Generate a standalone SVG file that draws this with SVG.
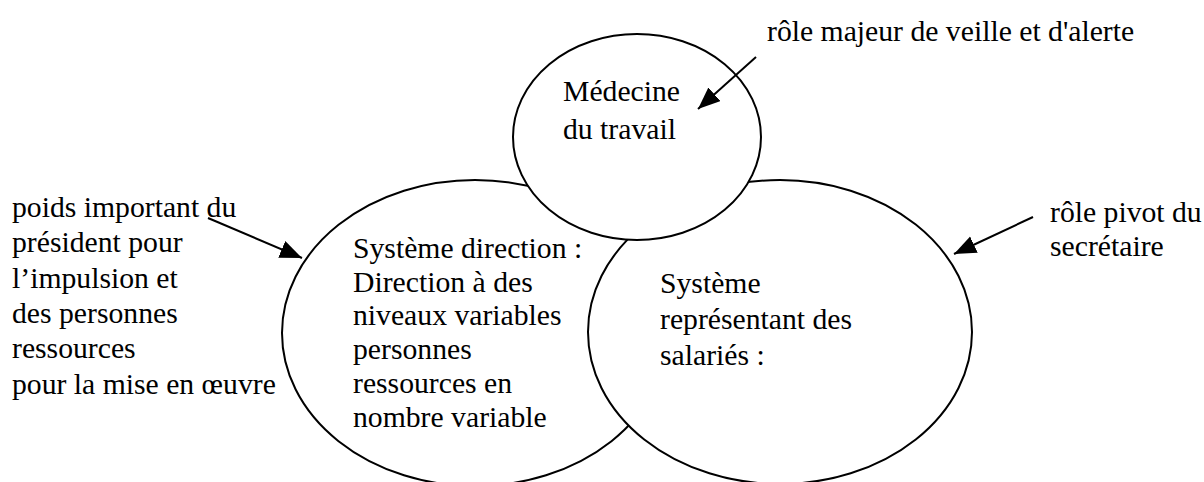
<svg xmlns="http://www.w3.org/2000/svg" width="1204" height="482" viewBox="0 0 1204 482" font-family="'Liberation Serif', 'Times New Roman', Times, 'DejaVu Serif', serif">
<style>
.node ellipse{fill:#fff;stroke:#000;stroke-width:2}
text{font-family:'Liberation Serif','Times New Roman',Times,'DejaVu Serif',serif;font-size:29.7px;fill:#000}
.conn line{stroke:#000;stroke-width:2;marker-end:url(#ah)}
</style>
<defs>
<marker id="ah" markerUnits="userSpaceOnUse" markerWidth="24" markerHeight="20" refX="22" refY="9" orient="auto" viewBox="0 0 24 20">
<path d="M0,0 L22,9 L0,18 z" fill="#000"/>
</marker>
</defs>
<rect width="1204" height="482" fill="#fff"/>
<g id="direction" class="node">
<ellipse cx="475" cy="333" rx="193" ry="153"/>
<text x="353" y="258">Système direction :</text>
<text x="353" y="292">Direction à des</text>
<text x="353" y="325">niveaux variables</text>
<text x="353" y="359">personnes</text>
<text x="353" y="393">ressources en</text>
<text x="353" y="427">nombre variable</text>
</g>
<g id="representants" class="node">
<ellipse cx="780" cy="332" rx="192" ry="152"/>
<text x="660" y="293">Système</text>
<text x="660" y="329">représentant des</text>
<text x="660" y="365">salariés :</text>
</g>
<g id="medecine" class="node">
<ellipse cx="637" cy="137" rx="124" ry="103"/>
<text x="563" y="101">Médecine</text>
<text x="563" y="139">du travail</text>
</g>
<g id="label-president">
<text x="12" y="217">poids important du</text>
<text x="12" y="252">président pour</text>
<text x="12" y="288">l’impulsion et</text>
<text x="12" y="323">des personnes</text>
<text x="12" y="358">ressources</text>
<text x="12" y="394">pour la mise en œuvre</text>
</g>
<g id="label-veille">
<text x="767" y="41">rôle majeur de veille et d'alerte</text>
</g>
<g id="label-secretaire">
<text x="1050" y="222">rôle pivot du</text>
<text x="1050" y="256">secrétaire</text>
</g>
<g id="connectors" class="conn">
<line x1="756" y1="57" x2="698" y2="109"/>
<line x1="208" y1="218" x2="302" y2="258"/>
<line x1="1033" y1="217" x2="954" y2="254"/>
</g>
</svg>
